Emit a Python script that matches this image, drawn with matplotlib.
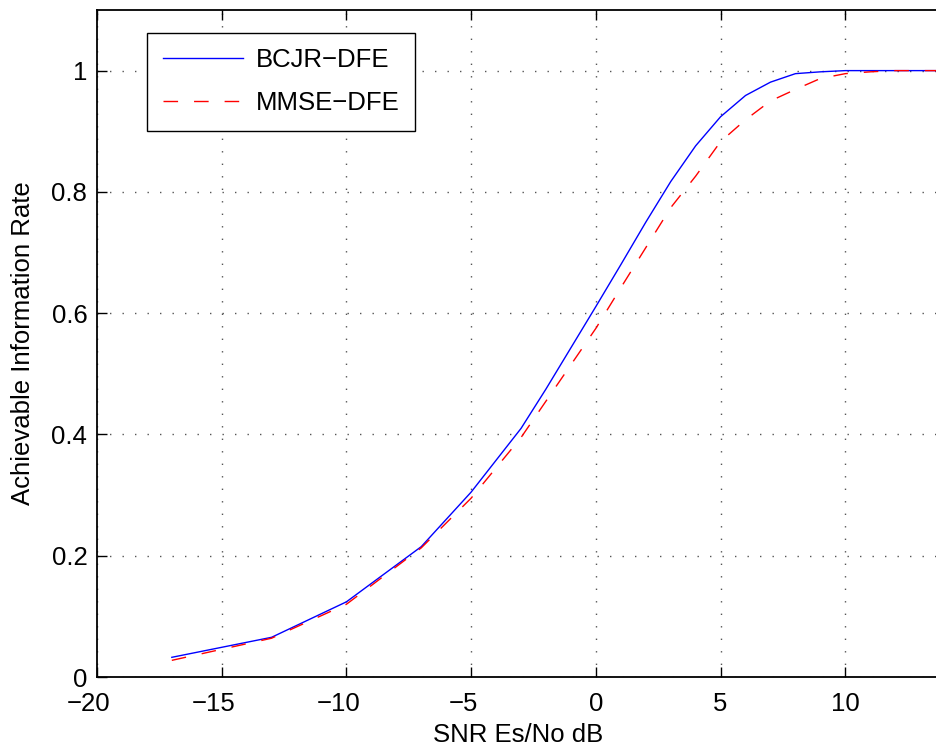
import matplotlib.pyplot as plt
import matplotlib.transforms as mtransforms
import numpy as np

plt.rcParams['font.family'] = ['Liberation Sans', 'DejaVu Sans']

# SNR points (dB) and achievable rates for the two receivers
snr_bcjr = [-17, -13, -10, -7, -5, -3, -2, -1, 0, 1, 2, 3, 4, 5, 6, 7, 8, 9, 10, 11, 12, 13, 14]
rate_bcjr = [0.0325, 0.0655, 0.124, 0.215, 0.305, 0.41, 0.475, 0.543, 0.611, 0.68, 0.75,
             0.817, 0.876, 0.924, 0.959, 0.981, 0.995, 0.998, 1.0, 1.0, 1.0, 1.0, 1.0]

snr_mmse = [-17, -13, -10, -7, -5, -3, -2, -1, 0, 1, 2, 3, 4, 5, 6, 7, 8, 9, 10, 11, 12, 13, 14]
rate_mmse = [0.0275, 0.064, 0.12, 0.213, 0.295, 0.395, 0.455, 0.515, 0.575, 0.642, 0.708,
             0.774, 0.826, 0.883, 0.919, 0.950, 0.969, 0.987, 0.995, 0.998, 1.0, 1.0, 1.0]

xtick_vals = [-20, -15, -10, -5, 0, 5, 10]
xtick_text = ['\u221220', '\u221215', '\u221210', '\u22125', '0', '5', '10']
ytick_vals = [0, 0.2, 0.4, 0.6, 0.8, 1]
ytick_text = ['0', '0.2', '0.4', '0.6', '0.8', '1']

fs = 18.5

fig = plt.figure(figsize=(9.37, 7.5), dpi=100)
ax = fig.add_axes([0.1035, 0.0973, 0.8985, 0.8894])

ax.plot(snr_bcjr, rate_bcjr, color='blue', lw=1.0, label='BCJR\u2212DFE')
ax.plot(snr_mmse, rate_mmse, color='red', lw=1.0, dashes=(10.5, 11.5), label='MMSE\u2212DFE')

ax.set_xlim(-20, 13.75)
ax.set_ylim(0, 1.1)
ax.set_xticks(xtick_vals)
ax.set_yticks(ytick_vals)
ax.set_xticklabels(xtick_text)
ax.set_yticklabels(ytick_text)
ax.tick_params(direction='in', length=7, width=1, labelsize=fs, top=True, right=False)
ax.tick_params(axis='x', pad=11)
ax.tick_params(axis='y', pad=7)
ax.grid(True, color='#555555', linestyle=(0, (1, 8)), linewidth=1.0)
for s in ax.spines.values():
    s.set_linewidth(1.3)
ax.spines['right'].set_visible(False)

# keep the digits centred on the tick, minus sign hanging to the left
shift = mtransforms.ScaledTranslation(-8 / 100, 0, fig.dpi_scale_trans)
for lab in ax.get_xticklabels():
    if lab.get_text().startswith('\u2212'):
        lab.set_transform(lab.get_transform() + shift)

ax.set_xlabel('SNR Es/No dB', fontsize=fs, labelpad=5)
ax.set_ylabel('Achievable Information Rate', fontsize=fs, labelpad=12)

leg = ax.legend(loc='upper left', bbox_to_anchor=(0.06, 0.966), fontsize=fs, fancybox=False,
                framealpha=1, edgecolor='black', handlelength=3.1, borderpad=0.6,
                labelspacing=0.75, handletextpad=0.5, borderaxespad=0)
leg.get_frame().set_linewidth(1.0)

fig.savefig('out.png', dpi=100)
